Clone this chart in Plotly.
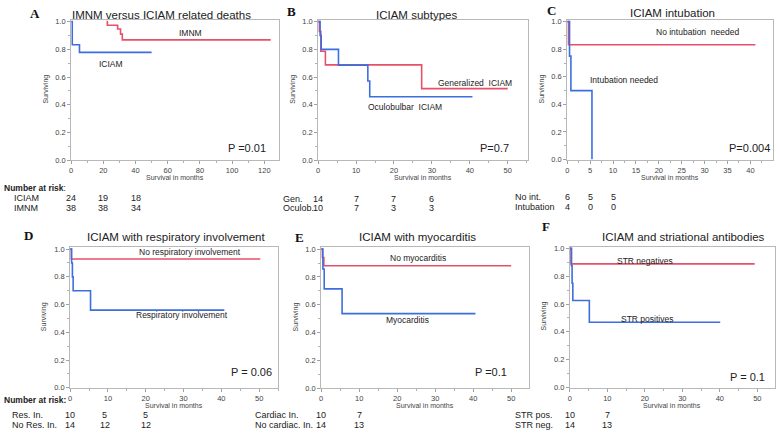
import plotly.graph_objects as go

W, H = 780, 436

# ---------------- data ----------------
# Panel A
a_iciam_t = [0, 0.7, 5.2, 50]
a_iciam_s = [1.0, 0.833, 0.778, 0.778]
a_imnm_t = [22, 22.5, 28.9, 30.7, 31.8, 124]
a_imnm_s = [1.0, 0.974, 0.947, 0.91, 0.868, 0.868]
# Panel B
b_gen_t = [0, 0.3, 0.7, 1.9, 27.3, 50]
b_gen_s = [1.0, 0.929, 0.786, 0.688, 0.516, 0.516]
b_ocu_t = [0, 0.5, 0.8, 5.35, 13.1, 13.6, 40.7]
b_ocu_s = [1.0, 0.9, 0.8, 0.686, 0.571, 0.457, 0.457]
# Panel C
c_noint_t = [0, 0.25, 41.1]
c_noint_s = [1.0, 0.833, 0.833]
c_int_t = [0, 0.5, 0.8, 5.4]
c_int_s = [1.0, 0.75, 0.5, 0.0]
# Panel D
d_nores_t = [0, 0.3, 50.3]
d_nores_s = [1.0, 0.929, 0.929]
d_res_t = [0, 0.4, 0.6, 0.8, 5.4, 40.8]
d_res_s = [1.0, 0.9, 0.8, 0.7, 0.56, 0.56]
# Panel E
e_nomyo_t = [0, 0.3, 0.7, 50]
e_nomyo_s = [1.0, 0.94, 0.88, 0.88]
e_myo_t = [0, 0.45, 0.8, 5.5, 40.6]
e_myo_s = [1.0, 0.857, 0.714, 0.536, 0.536]
# Panel F
f_neg_t = [0, 0.3, 49.3]
f_neg_s = [1.0, 0.889, 0.889]
f_pos_t = [0, 0.45, 0.6, 0.8, 5.2, 40.1]
f_pos_s = [1.0, 0.875, 0.75, 0.625, 0.469, 0.469]

# Number-at-risk tables: (time points, row labels, rows)
a_risk_t = [0, 20, 40]
a_risk_rows = [("ICIAM", [24, 19, 18]), ("IMNM", [38, 38, 34])]
b_risk_t = [0, 10, 20, 30]
b_risk_rows = [("Gen.", [14, 7, 7, 6]), ("Oculob.", [10, 7, 3, 3])]
c_risk_t = [0, 5, 10]
c_risk_rows = [("No int.", [6, 5, 5]), ("Intubation", [4, 0, 0])]
d_risk_t = [0, 9.2, 20]
d_risk_rows = [("Res. In.", [10, 5, 5]), ("No Res. In.", [14, 12, 12])]
e_risk_t = [0, 10]
e_risk_rows = [("Cardiac In.", [10, 7]), ("No cardiac. In.", [14, 13])]
f_risk_t = [0, 10]
f_risk_rows = [("STR pos.", [10, 7]), ("STR neg.", [14, 13])]

titles = ["IMNM versus ICIAM related deaths", "ICIAM subtypes", "ICIAM intubation",
          "ICIAM with respiratory involvement", "ICIAM with myocarditis",
          "ICIAM and striational antibodies"]
letters = ["A", "B", "C", "D", "E", "F"]
pvals = ["P =0.01", "P=0.7", "P=0.004", "P = 0.06", "P =0.1", "P = 0.1"]

RED = "#e8506a"
BLUE = "#3c6ee0"
FONT = "Liberation Sans, Arial, sans-serif"


def px(x):
    return x / W


def py(y):
    return 1 - y / H


# panel geometry in pixels: x of data 0, px per unit, right frame, y of 1.0, y of 0, dtick, minor dtick
geo = [
    (69.3, 1.614, 278, 19, 160, 20, 10),
    (317, 3.8, 527, 19, 160, 10, 5),
    (566.7, 4.59, 773, 19, 159.5, 5, 2.5),
    (68.3, 3.79, 277, 250.7, 392, 10, 5),
    (320, 3.81, 528, 250.7, 392.3, 10, 5),
    (569.3, 3.76, 775, 250, 391.7, 10, 5),
]

fig = go.Figure()
layout = {}
ann = []

curves = [
    [(a_imnm_t, a_imnm_s, RED), (a_iciam_t, a_iciam_s, BLUE)],
    [(b_gen_t, b_gen_s, RED), (b_ocu_t, b_ocu_s, BLUE)],
    [(c_noint_t, c_noint_s, RED), (c_int_t, c_int_s, BLUE)],
    [(d_nores_t, d_nores_s, RED), (d_res_t, d_res_s, BLUE)],
    [(e_nomyo_t, e_nomyo_s, RED), (e_myo_t, e_myo_s, BLUE)],
    [(f_neg_t, f_neg_s, RED), (f_pos_t, f_pos_s, BLUE)],
]

YPAD = 0.012
for i, (x0, ppu, right, ytop, ybot, dt, mdt) in enumerate(geo):
    n = i + 1
    xa = "xaxis" if n == 1 else f"xaxis{n}"
    ya = "yaxis" if n == 1 else f"yaxis{n}"
    xr = "x" if n == 1 else f"x{n}"
    yr = "y" if n == 1 else f"y{n}"
    xmax = (right - x0) / ppu
    unit = ybot - ytop
    top_px = ytop - YPAD * unit
    layout[xa] = dict(
        domain=[px(x0), px(right)], range=[0, xmax], anchor=yr,
        showline=True, linecolor="#b8b8b8", linewidth=1, mirror=True,
        showgrid=False, zeroline=False, ticks="outside", ticklen=3,
        tickcolor="#a0a0a0", dtick=dt, tick0=0,
        tickfont=dict(size=7.5, color="#444", family=FONT),
        minor=dict(ticks="outside", ticklen=2, dtick=mdt, tickcolor="#b0b0b0"),
    )
    layout[ya] = dict(
        domain=[py(ybot), py(top_px)], range=[0, 1 + YPAD], anchor=xr,
        showline=True, linecolor="#b8b8b8", linewidth=1, mirror=True,
        showgrid=False, zeroline=False, ticks="outside", ticklen=3,
        tickcolor="#a0a0a0", tickvals=[0, 0.2, 0.4, 0.6, 0.8, 1.0],
        ticktext=["0.0", "0.2", "0.4", "0.6", "0.8", "1.0"],
        tickfont=dict(size=7.5, color="#444", family=FONT),
        minor=dict(ticks="outside", ticklen=2, tickvals=[0.1, 0.3, 0.5, 0.7, 0.9], tickcolor="#b0b0b0"),
    )
    for t, s, col in curves[i]:
        fig.add_trace(go.Scatter(x=t, y=s, mode="lines", line=dict(color=col, width=1.6, shape="hv"),
                                 xaxis=xr, yaxis=yr, showlegend=False, hoverinfo="skip"))
    # axis titles
    ann.append(dict(text="Survival in months", xref="paper", yref="paper",
                    x=px((x0 + right) / 2), y=py(ybot + 18), showarrow=False,
                    xanchor="center", yanchor="middle",
                    font=dict(size=7, color="#444", family=FONT)))
    ann.append(dict(text="Surviving", xref="paper", yref="paper", textangle=-90,
                    x=px(x0 - 25.5), y=py((ytop + ybot) / 2 - 2), showarrow=False,
                    xanchor="center", yanchor="middle",
                    font=dict(size=7, color="#444", family=FONT)))

fig.update_layout(**layout)

# titles, letters, p-values (pixel positions)
title_pos = [(160, 12), (416, 12), (672, 10.5), (174, 238), (417, 238), (683, 238)]
letter_pos = [(33, 11), (290, 8.5), (551, 7.5), (27, 237), (298, 238.5), (545, 227.5)]
p_pos = [(267, 148), (510, 148), (772, 148), (273, 376), (508, 376), (767, 381)]
for i in range(6):
    ann.append(dict(text=titles[i], xref="paper", yref="paper", x=px(title_pos[i][0]),
                    y=py(title_pos[i][1]), showarrow=False, xanchor="center", yanchor="middle",
                    font=dict(size=11.5, color="#222", family=FONT)))
    ann.append(dict(text="<b>" + letters[i] + "</b>", xref="paper", yref="paper", x=px(letter_pos[i][0]),
                    y=py(letter_pos[i][1]), showarrow=False, xanchor="center", yanchor="middle",
                    font=dict(size=13, color="#111", family="Liberation Serif, Times New Roman, serif")))
    ann.append(dict(text=pvals[i], xref="paper", yref="paper", x=px(p_pos[i][0]),
                    y=py(p_pos[i][1]), showarrow=False, xanchor="right", yanchor="middle",
                    font=dict(size=11, color="#222", family=FONT)))

# curve labels (data coordinates)
labels = [
    (1, "IMNM", 74, 0.917), (1, "ICIAM", 24.7, 0.697),
    (2, "Generalized  ICIAM", 41.3, 0.555), (2, "Oculobulbar  ICIAM", 22.9, 0.383),
    (3, "No intubation  needed", 28.5, 0.922), (3, "Intubation needed", 12.4, 0.579),
    (4, "No respiratory involvement", 31.8, 0.981), (4, "Respiratory involvement", 29.5, 0.525),
    (5, "No myocarditis", 25.5, 0.934), (5, "Myocarditis", 22.8, 0.49),
    (6, "STR negatives", 20, 0.906), (6, "STR positives", 20.7, 0.49),
]
for n, txt, x, y in labels:
    ann.append(dict(text=txt, xref="x" if n == 1 else f"x{n}", yref="y" if n == 1 else f"y{n}",
                    x=x, y=y, showarrow=False, xanchor="center", yanchor="middle",
                    font=dict(size=8.5, color="#222", family=FONT)))

# number at risk tables
risk = [
    (1, a_risk_t, a_risk_rows, 10, [199, 209]),
    (2, b_risk_t, b_risk_rows, 280, [200, 208.5]),
    (3, c_risk_t, c_risk_rows, 512, [198, 208]),
    (4, d_risk_t, d_risk_rows, 8, [420, 430]),
    (5, e_risk_t, e_risk_rows, 252, [420, 430]),
    (6, f_risk_t, f_risk_rows, 512, [420, 430]),
]
rfont = dict(size=9, color="#222", family=FONT)
hfont = dict(size=8.5, color="#222", family=FONT)
for n, ts, rows, lx, ys in risk:
    for (lab, vals), yy in zip(rows, ys):
        ann.append(dict(text=lab, xref="paper", yref="paper", x=px(lx), y=py(yy), showarrow=False,
                        xanchor="left", yanchor="middle", font=rfont))
        for t, v in zip(ts, vals):
            ann.append(dict(text=str(v), xref="x" if n == 1 else f"x{n}", yref="paper", x=t, y=py(yy),
                            showarrow=False, xanchor="center", yanchor="middle", font=rfont))
ann.append(dict(text="<b>Number at risk</b>:", xref="paper", yref="paper", x=px(0), y=py(188),
                showarrow=False, xanchor="left", yanchor="middle", font=hfont))
ann.append(dict(text="<b>Number at risk:</b>", xref="paper", yref="paper", x=px(0), y=py(404),
                showarrow=False, xanchor="left", yanchor="middle", font=hfont))

fig.update_layout(annotations=ann, width=W, height=H, margin=dict(l=0, r=0, t=0, b=0),
                  paper_bgcolor="white", plot_bgcolor="white", showlegend=False)
fig.write_html("out.html", config={"displayModeBar": False},
               post_script="document.body.style.margin='0';document.body.style.overflow='hidden';")
